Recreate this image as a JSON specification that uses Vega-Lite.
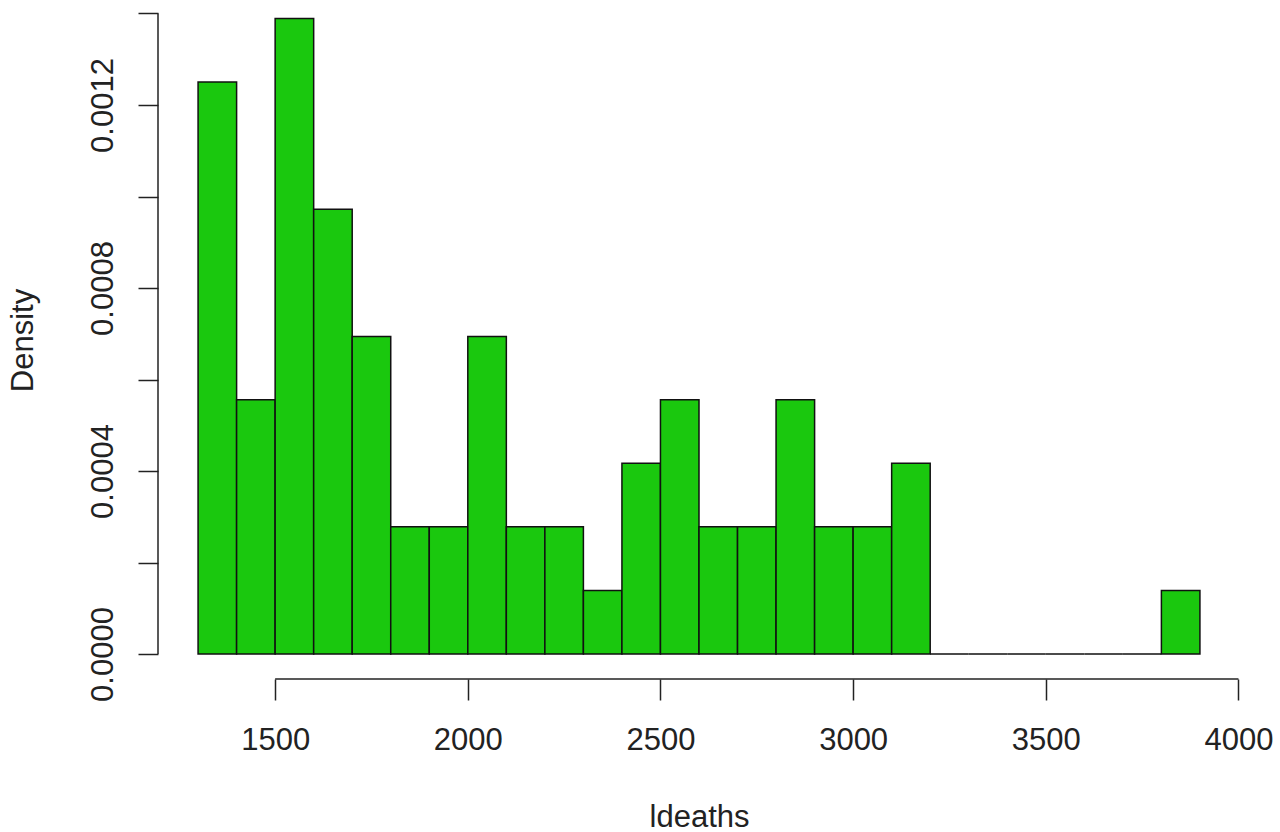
{
  "$schema": "https://vega.github.io/schema/vega-lite/v6.json",
  "width": 1082,
  "height": 679,
  "autosize": {"type": "none"},
  "padding": {"left": 158, "top": 0, "right": 40, "bottom": 153},
  "background": "white",
  "config": {
    "view": {"stroke": null},
    "font": "Liberation Sans",
    "axis": {
      "domain": false,
      "grid": false,
      "tickColor": "#222222",
      "tickWidth": 1.5,
      "tickSize": 20,
      "labelFontSize": 31,
      "labelColor": "#222222",
      "labelFont": "Liberation Sans",
      "labelFlush": false,
      "labelOverlap": false,
      "labelBound": false,
      "titleFontSize": 31,
      "titleFontWeight": "normal",
      "titleColor": "#222222",
      "titleFont": "Liberation Sans"
    }
  },
  "data": {
    "values": [
      {"start": 1300, "end": 1400, "density": 0.00125},
      {"start": 1400, "end": 1500, "density": 0.000556},
      {"start": 1500, "end": 1600, "density": 0.001389},
      {"start": 1600, "end": 1700, "density": 0.000972},
      {"start": 1700, "end": 1800, "density": 0.000694},
      {"start": 1800, "end": 1900, "density": 0.000278},
      {"start": 1900, "end": 2000, "density": 0.000278},
      {"start": 2000, "end": 2100, "density": 0.000694},
      {"start": 2100, "end": 2200, "density": 0.000278},
      {"start": 2200, "end": 2300, "density": 0.000278},
      {"start": 2300, "end": 2400, "density": 0.000139},
      {"start": 2400, "end": 2500, "density": 0.000417},
      {"start": 2500, "end": 2600, "density": 0.000556},
      {"start": 2600, "end": 2700, "density": 0.000278},
      {"start": 2700, "end": 2800, "density": 0.000278},
      {"start": 2800, "end": 2900, "density": 0.000556},
      {"start": 2900, "end": 3000, "density": 0.000278},
      {"start": 3000, "end": 3100, "density": 0.000278},
      {"start": 3100, "end": 3200, "density": 0.000417},
      {"start": 3200, "end": 3300, "density": 0},
      {"start": 3300, "end": 3400, "density": 0},
      {"start": 3400, "end": 3500, "density": 0},
      {"start": 3500, "end": 3600, "density": 0},
      {"start": 3600, "end": 3700, "density": 0},
      {"start": 3700, "end": 3800, "density": 0},
      {"start": 3800, "end": 3900, "density": 0.000139}
    ]
  },
  "layer": [
    {
      "mark": {"type": "rect", "fill": "#1ac80e", "stroke": "#111111", "strokeWidth": 1.5},
      "encoding": {
        "x": {
          "field": "start",
          "type": "quantitative",
          "title": "ldeaths",
          "scale": {"domain": [1196, 4004], "nice": false, "zero": false},
          "axis": {
            "values": [1500, 2000, 2500, 3000, 3500, 4000],
            "format": "d",
            "labelPadding": 25,
            "tickSize": 21,
            "titleBaseline": "alphabetic",
            "titleY": 147
          }
        },
        "x2": {"field": "end"},
        "y": {
          "field": "density",
          "type": "quantitative",
          "title": "Density",
          "scale": {"domain": [-0.0000546, 0.0014295], "nice": false, "zero": false},
          "axis": {
            "values": [0, 0.0002, 0.0004, 0.0006, 0.0008, 0.001, 0.0012, 0.0014],
            "labelExpr": "round(datum.value * 10000) % 4 == 0 ? format(datum.value, '.4f') : ''",
            "labelAngle": -90,
            "labelAlign": "center",
            "labelBaseline": "alphabetic",
            "labelPadding": 26,
            "titleAngle": -90,
            "titleBaseline": "alphabetic",
            "titleX": -126,
            "titleY": 340
          }
        },
        "y2": {"datum": 0}
      }
    },
    {
      "data": {"values": [{"a": 1500, "b": 4000}]},
      "mark": {"type": "rule", "stroke": "#222222", "strokeWidth": 1.5},
      "encoding": {
        "x": {"field": "a", "type": "quantitative", "title": "ldeaths"},
        "x2": {"field": "b"},
        "y": {"datum": -0.0000546, "type": "quantitative", "title": "Density"}
      }
    },
    {
      "data": {"values": [{"a": 0, "b": 0.0014}]},
      "mark": {"type": "rule", "stroke": "#222222", "strokeWidth": 1.5},
      "encoding": {
        "y": {"field": "a", "type": "quantitative", "title": "Density"},
        "y2": {"field": "b"},
        "x": {"datum": 1196, "type": "quantitative", "title": "ldeaths"}
      }
    }
  ]
}
